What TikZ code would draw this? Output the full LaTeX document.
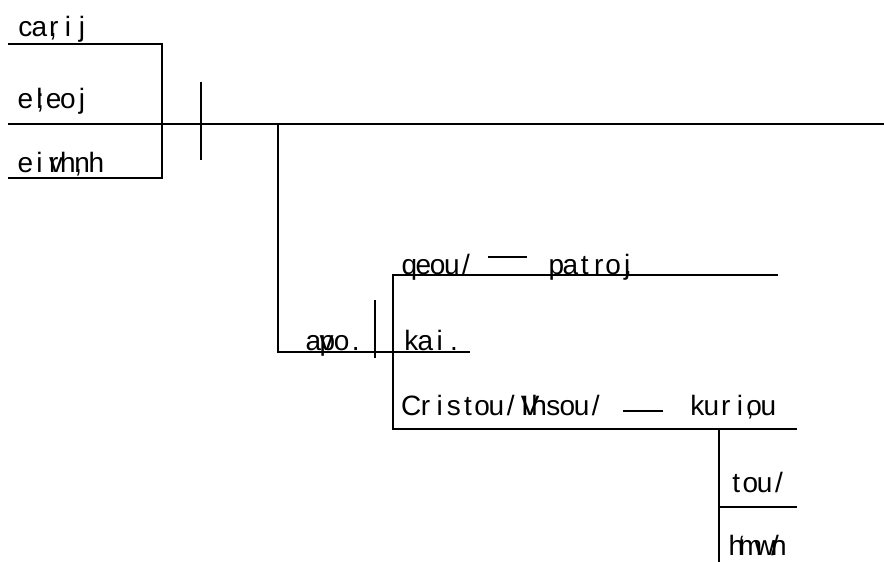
\documentclass[tikz,border=0pt]{standalone}
\usepackage{fontspec}
\setmainfont{Liberation Sans}
\newlength\cellw
\setlength\cellw{14.2pt}
\ExplSyntaxOn
\cs_new:Npn \gkcells #1 { \tl_map_inline:nn {#1} { \makebox[\cellw][c]{##1} } }
\ExplSyntaxOff
\begin{document}
\begin{tikzpicture}[x=1pt,y=-1pt,
  rule/.style={line width=2.2pt},
  word/.style={anchor=base west,inner sep=0pt,font=\fontsize{28}{32}\selectfont}]
\useasboundingbox (0,0) rectangle (884,562);
% words
\node[word] (w1) at (18,36) {\gkcells{ca{\rlap{,}r}ij}};
\node[word] (w2) at (18,108) {\gkcells{e{\rlap{;}l}eoj}};
\node[word] (w3) at (18,172) {\gkcells{ei{\rlap{v}r}h{\rlap{,}n}h}};
\node[word] (w4) at (306,350) {\gkcells{a{\rlap{v}p}o.}};
\node[word] (w5) at (404,350) {\gkcells{kai.}};
\node[word] (w6) at (402,274) {\gkcells{qeou/}};
\node[word] (w7) at (549,274) {\gkcells{patro{\rlap{.}j}}};
\node[word] (w8) at (404,415) {\gkcells{Cristou/{\rlap{V}I}hsou/}};
\node[word] (w9) at (690,415) {\gkcells{kuri{\rlap{,}o}u}};
\node[word] (w10) at (729,492) {\gkcells{tou/}};
\node[word] (w11) at (729,555) {\gkcells{h{\rlap{`}m}w{\rlap{/}n}}};
% coordinates
\coordinate (a1) at (8,44);
\coordinate (a2) at (162,44);
\coordinate (b1) at (8,124);
\coordinate (b2) at (884,124);
\coordinate (c1) at (8,178);
\coordinate (c2) at (162,178);
\coordinate (d1) at (201,82);
\coordinate (d2) at (201,160);
\coordinate (e1) at (278,124);
\coordinate (e2) at (278,352);
\coordinate (e3) at (470,352);
\coordinate (f1) at (375,300);
\coordinate (f2) at (375,358);
\coordinate (g1) at (393,275);
\coordinate (g2) at (393,429);
\coordinate (g3) at (778,275);
\coordinate (g4) at (797,429);
\coordinate (h1) at (488,257);
\coordinate (h2) at (527,257);
\coordinate (i1) at (623,411);
\coordinate (i2) at (663,411);
\coordinate (j1) at (719,429);
\coordinate (j2) at (719,562);
\coordinate (j3) at (797,507);
% lines
\draw[rule] (a1) -- (a2) -- (c2) -- (c1);
\draw[rule] (b1) -- (b2);
\draw[rule] (d1) -- (d2);
\draw[rule] (e1) -- (e2) -- (e3);
\draw[rule] (f1) -- (f2);
\draw[rule] (g3) -- (g1) -- (g2) -- (g4);
\draw[rule] (h1) -- (h2);
\draw[rule] (i1) -- (i2);
\draw[rule] (j1) -- (j2);
\draw[rule] (j1 |- j3) -- (j3);
\end{tikzpicture}
\end{document}
